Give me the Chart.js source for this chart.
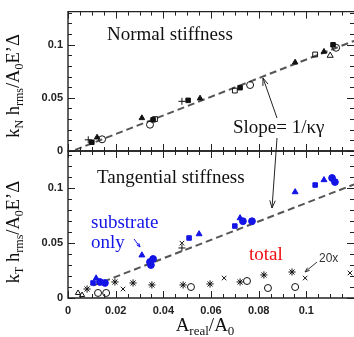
<!DOCTYPE html>
<html>
<head>
<meta charset="utf-8">
<script src="https://cdn.jsdelivr.net/npm/chart.js@4.4.0/dist/chart.umd.min.js"></script>
<style>
  html, body { margin: 0; padding: 0; background: #fff; }
  .wrap { position: relative; width: 354px; height: 337px; }
  .wrap canvas { position: absolute; left: 0; top: 0; }
</style>
</head>
<body>
<div class="wrap">
  <canvas id="normalChart" width="354" height="337"></canvas>
  <canvas id="tangChart" width="354" height="337"></canvas>
</div>
<script>
// ---- values ----
const xTicks = [0, 0.02, 0.04, 0.06, 0.08, 0.1];
const xTickLabels = ['0', '0.02', '0.04', '0.06', '0.08', '0.1'];
const yTicks = [0, 0.05, 0.1];
const yTickLabels = ['0', '0.05', '0.1'];

// Normal stiffness (top panel)
const nFilledSqX = [0.0100, 0.0357, 0.0504, 0.0722, 0.1112];
const nFilledSqY = [0.0082, 0.0293, 0.0476, 0.0595, 0.0998];
const nFilledTriX = [0.0122, 0.0310, 0.0554, 0.0953, 0.1074];
const nFilledTriY = [0.0128, 0.0310, 0.0495, 0.0833, 0.0934];
const nOpenSqX = [0.0365, 0.0700, 0.1037];
const nOpenSqY = [0.0300, 0.0568, 0.0907];
const nOpenCircX = [0.0143, 0.0344, 0.0764, 0.1125];
const nOpenCircY = [0.0110, 0.0247, 0.0620, 0.0970];
const nOpenTriX = [0.1100];
const nOpenTriY = [0.0897];
const nPlusX = [0.0085, 0.0478];
const nPlusY = [0.0105, 0.0467];
const fitNX = [0.003, 0.12];
const fitNY = [0.001, 0.1035];

// Tangential stiffness (bottom panel) - substrate only (blue)
const tSubSqX = [0.0105, 0.0508, 0.0700, 0.1037];
const tSubSqY = [0.0137, 0.0547, 0.0656, 0.1030];
const tSubTriX = [0.0118, 0.0310, 0.0550, 0.0722, 0.0953, 0.1074];
const tSubTriY = [0.0180, 0.0390, 0.0583, 0.0729, 0.0966, 0.1076];
const tSubCircX = [0.0134, 0.0155, 0.0344, 0.0357, 0.0348, 0.0734, 0.0772, 0.1108, 0.1120];
const tSubCircY = [0.0146, 0.0137, 0.0328, 0.0356, 0.0300, 0.0700, 0.0700, 0.1094, 0.1057];
// total (black)
const tStarX = [0.0080, 0.0197, 0.0273, 0.0352, 0.0483, 0.0596, 0.0722, 0.0822, 0.0940];
const tStarY = [0.0082, 0.0146, 0.0137, 0.0119, 0.0119, 0.0128, 0.0146, 0.0210, 0.0237];
const tCrossX = [0.0231, 0.0478, 0.0655, 0.0995, 0.1183];
const tCrossY = [0.0082, 0.0500, 0.0182, 0.0182, 0.0228];
const tPlusX = [0.0478];
const tPlusY = [0.0456];
const tOpenCircX = [0.0126, 0.0160, 0.0516, 0.0751, 0.0839, 0.0953];
const tOpenCircY = [0.0046, 0.0046, 0.0100, 0.0155, 0.0091, 0.0100];
const tOpenTriX = [0.0042, 0.0059];
const tOpenTriY = [0.0046, 0.0027];
const fitTX = [0.0105, 0.12];
const fitTY = [0.0113, 0.1035];

const X_MAX = 0.12;
const Y_MAX_TOP = 0.131;
const Y_MAX_BOT = 0.134;

const BLUE = '#1414e6';
const INK = '#111';
const SERIF = '"Liberation Serif", "DejaVu Serif", serif';
const SANS = '"Liberation Sans", Arial, sans-serif';

function pts(xs, ys) {
  return xs.map((x, i) => ({ x: x, y: ys[i] }));
}

function marks(xs, ys, style, color, filled, r) {
  return {
    data: pts(xs, ys),
    pointStyle: style,
    pointRadius: r,
    borderColor: color,
    backgroundColor: filled ? color : 'rgba(0,0,0,0)',
    pointBorderWidth: 1,
    showLine: false
  };
}

function fitLine(xs, ys) {
  return {
    data: pts(xs, ys),
    showLine: true,
    borderColor: '#555',
    borderWidth: 2,
    borderDash: [7, 4],
    pointRadius: 0,
    fill: false
  };
}

// rich text with subscripts: parts = [[text, isSub], ...]
function richWidth(ctx, parts, size) {
  let w = 0;
  parts.forEach(p => {
    ctx.font = (p[1] ? Math.round(size * 0.66) : size) + 'px ' + SERIF;
    w += ctx.measureText(p[0]).width;
  });
  return w;
}
function drawRich(ctx, parts, x, y, size) {
  parts.forEach(p => {
    const s = p[1] ? Math.round(size * 0.66) : size;
    ctx.font = s + 'px ' + SERIF;
    ctx.fillText(p[0], x, p[1] ? y + size * 0.22 : y);
    x += ctx.measureText(p[0]).width;
  });
}

function arrow(ctx, x1, y1, x2, y2, color, head) {
  ctx.save();
  ctx.strokeStyle = color;
  ctx.lineWidth = 1;
  ctx.beginPath();
  ctx.moveTo(x1, y1);
  ctx.lineTo(x2, y2);
  const a = Math.atan2(y2 - y1, x2 - x1);
  ctx.moveTo(x2, y2);
  ctx.lineTo(x2 - head * Math.cos(a - 0.35), y2 - head * Math.sin(a - 0.35));
  ctx.moveTo(x2, y2);
  ctx.lineTo(x2 - head * Math.cos(a + 0.35), y2 - head * Math.sin(a + 0.35));
  ctx.stroke();
  ctx.restore();
}

// frame (left, top, bottom) with inward ticks on every side
const frameTicks = {
  id: 'frameTicks',
  afterDraw(chart) {
    const { ctx, chartArea: a, scales: { x, y } } = chart;
    ctx.save();
    ctx.strokeStyle = '#222';
    ctx.lineWidth = 1.4;
    ctx.beginPath();
    ctx.moveTo(a.right, a.top);
    ctx.lineTo(a.left, a.top);
    ctx.lineTo(a.left, a.bottom);
    ctx.lineTo(a.right, a.bottom);
    ctx.stroke();
    ctx.lineWidth = 1;
    ctx.beginPath();
    for (let i = 0; i * 0.005 <= x.max + 1e-9; i++) {
      const px = Math.round(x.getPixelForValue(i * 0.005)) + 0.5;
      const len = i % 4 === 0 ? 7 : 4;
      ctx.moveTo(px, a.bottom); ctx.lineTo(px, a.bottom - len);
      ctx.moveTo(px, a.top); ctx.lineTo(px, a.top + len);
    }
    for (let j = 0; j * 0.01 <= y.max + 1e-9; j++) {
      const py = Math.round(y.getPixelForValue(j * 0.01)) + 0.5;
      const len = j % 5 === 0 ? 7 : 4;
      ctx.moveTo(a.left, py); ctx.lineTo(a.left + len, py);
      ctx.moveTo(a.right, py); ctx.lineTo(a.right - len, py);
    }
    ctx.stroke();
    ctx.restore();
  }
};

const topText = {
  id: 'topText',
  afterDraw(chart) {
    const ctx = chart.ctx;
    ctx.save();
    ctx.fillStyle = INK;
    ctx.textBaseline = 'alphabetic';
    ctx.font = '19px ' + SERIF;
    ctx.fillText('Normal stiffness', 107, 40);
    ctx.fillText('Slope= 1/\u03BA\u03B3', 233, 133);
    arrow(ctx, 277, 118, 263, 78, '#222', 8);
    arrow(ctx, 277, 138, 272, 208, '#222', 8);
    // y title
    const parts = [['k', 0], ['N', 1], [' h', 0], ['rms', 1], ['/A', 0], ['0', 1], ['E\u2019\u0394', 0]];
    ctx.translate(19, 86);
    ctx.rotate(-Math.PI / 2);
    drawRich(ctx, parts, -richWidth(ctx, parts, 18.5) / 2, 0, 18.5);
    ctx.restore();
  }
};

const bottomText = {
  id: 'bottomText',
  afterDraw(chart) {
    const ctx = chart.ctx;
    ctx.save();
    ctx.textBaseline = 'alphabetic';
    ctx.fillStyle = INK;
    ctx.font = '19px ' + SERIF;
    ctx.fillText('Tangential stiffness', 97, 183);
    ctx.fillStyle = BLUE;
    ctx.fillText('substrate', 91, 228);
    ctx.fillText('only', 91, 248);
    arrow(ctx, 134, 239, 140, 247, BLUE, 4);
    ctx.fillStyle = '#f01010';
    ctx.fillText('total', 249, 260);
    ctx.fillStyle = '#333';
    ctx.font = '12px ' + SANS;
    ctx.fillText('20x', 319, 262);
    arrow(ctx, 317, 262, 305, 272, '#333', 5);
    // x title
    ctx.fillStyle = INK;
    const xp = [['A', 0], ['real', 1], ['/A', 0], ['0', 1]];
    drawRich(ctx, xp, 205 - richWidth(ctx, xp, 19) / 2, 331, 19);
    // y title
    const parts = [['k', 0], ['T', 1], [' h', 0], ['rms', 1], ['/A', 0], ['0', 1], ['E\u2019\u0394', 0]];
    ctx.translate(19, 232);
    ctx.rotate(-Math.PI / 2);
    drawRich(ctx, parts, -richWidth(ctx, parts, 18.5) / 2, 0, 18.5);
    ctx.restore();
  }
};

function yScale(max) {
  return {
    type: 'linear',
    min: 0,
    max: max,
    grid: { display: false, drawTicks: false },
    border: { display: false },
    afterFit: s => { s.width = 68; },
    afterBuildTicks: s => { s.ticks = yTicks.map(v => ({ value: v })); },
    ticks: {
      padding: 5,
      color: '#222',
      font: { family: SANS, weight: 'bold', size: 11 },
      callback: (v, i) => yTickLabels[i]
    }
  };
}

const baseOpts = {
  responsive: false,
  animation: false,
  events: [],
  devicePixelRatio: 1,
  plugins: { legend: { display: false }, tooltip: { enabled: false } }
};

// Top: normal stiffness
new Chart(document.getElementById('normalChart'), {
  type: 'scatter',
  data: {
    datasets: [
      marks(nFilledSqX, nFilledSqY, 'rect', INK, true, 3.2),
      marks(nFilledTriX, nFilledTriY, 'triangle', INK, true, 3.2),
      marks(nOpenSqX, nOpenSqY, 'rect', INK, false, 3.4),
      marks(nOpenCircX, nOpenCircY, 'circle', INK, false, 3.5),
      marks(nOpenTriX, nOpenTriY, 'triangle', INK, false, 3.5),
      marks(nPlusX, nPlusY, 'cross', INK, false, 3.5),
      fitLine(fitNX, fitNY)
    ]
  },
  options: Object.assign({}, baseOpts, {
    layout: { autoPadding: false, padding: { left: 0, top: 8, right: 0, bottom: 186 } },
    scales: {
      x: { type: 'linear', min: 0, max: X_MAX, display: false },
      y: yScale(Y_MAX_TOP)
    }
  }),
  plugins: [frameTicks, topText]
});

// Bottom: tangential stiffness
new Chart(document.getElementById('tangChart'), {
  type: 'scatter',
  data: {
    datasets: [
      marks(tSubSqX, tSubSqY, 'rect', BLUE, true, 3.2),
      marks(tSubTriX, tSubTriY, 'triangle', BLUE, true, 3.4),
      marks(tSubCircX, tSubCircY, 'circle', BLUE, true, 3.4),
      marks(tStarX, tStarY, 'star', INK, false, 3.6),
      marks(tCrossX, tCrossY, 'crossRot', INK, false, 3.2),
      marks(tPlusX, tPlusY, 'cross', INK, false, 3.5),
      marks(tOpenCircX, tOpenCircY, 'circle', INK, false, 3.5),
      marks(tOpenTriX, tOpenTriY, 'triangle', INK, false, 3),
      fitLine(fitTX, fitTY)
    ]
  },
  options: Object.assign({}, baseOpts, {
    layout: { autoPadding: false, padding: { left: 0, top: 151, right: 0, bottom: 0 } },
    scales: {
      x: {
        type: 'linear',
        min: 0,
        max: X_MAX,
        grid: { display: false, drawTicks: false },
        border: { display: false },
        afterFit: s => { s.height = 39; },
        afterBuildTicks: s => { s.ticks = xTicks.map(v => ({ value: v })); },
        ticks: {
          padding: 6,
          maxRotation: 0,
          color: '#222',
          font: { family: SANS, weight: 'bold', size: 11 },
          callback: (v, i) => xTickLabels[i]
        }
      },
      y: yScale(Y_MAX_BOT)
    }
  }),
  plugins: [frameTicks, bottomText]
});
</script>
</body>
</html>
